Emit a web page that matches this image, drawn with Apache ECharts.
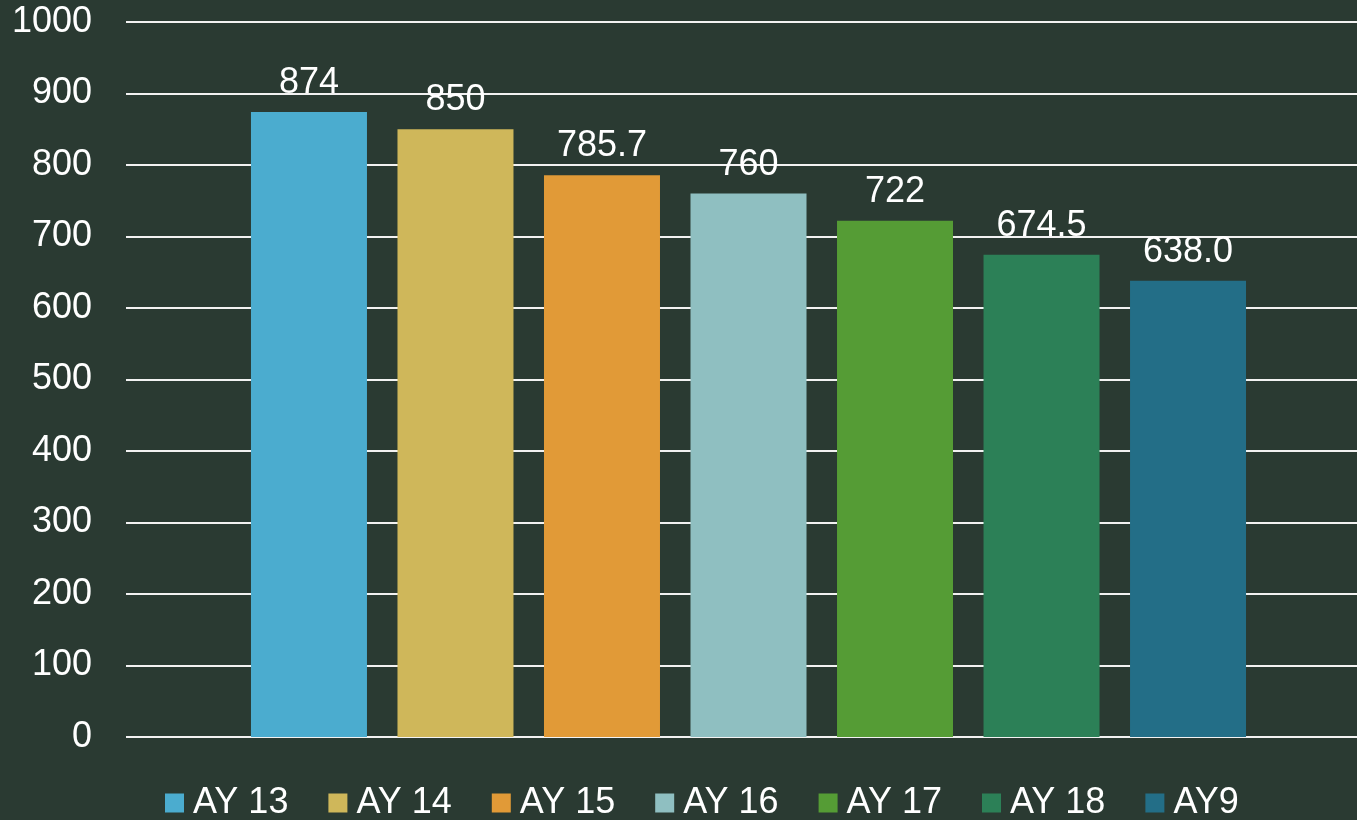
<!DOCTYPE html>
<html>
<head>
<meta charset="utf-8">
<script src="https://cdn.jsdelivr.net/npm/echarts@6/dist/echarts.min.js"></script>
<style>
  html, body { margin: 0; padding: 0; background: #2a3a32; }
  #chart { width: 1357px; height: 820px; }
</style>
</head>
<body>
<div id="chart"></div>
<script>
const seriesNames = ['AY 13', 'AY 14', 'AY 15', 'AY 16', 'AY 17', 'AY 18', 'AY9']
const seriesValues = [874, 850, 785.7, 760, 722, 674.5, 638.0]
const valueLabels = ['874', '850', '785.7', '760', '722', '674.5', '638.0']
const barColors = ['#4BACCF', '#CFB75A', '#E19A37', '#8FBFC1', '#559C35', '#2C8057', '#236E87']

const font = '"Liberation Sans", Arial, sans-serif'
const chart = echarts.init(document.getElementById('chart'))

// bars sit in their own grid so the group lands a little right of centre, like the original
const series = seriesNames.map((name, i) => ({
  name,
  type: 'bar',
  xAxisIndex: 1,
  yAxisIndex: 1,
  data: [seriesValues[i]],
  barWidth: 116,
  barGap: '26.3%',
  itemStyle: { color: barColors[i] },
  label: {
    show: true,
    position: 'top',
    distance: 11,
    color: '#ffffff',
    fontSize: 36,
    fontFamily: font,
    formatter: () => valueLabels[i]
  }
}))

chart.setOption({
  backgroundColor: '#2a3a32',
  animation: false,
  grid: [
    { left: 126, right: 0, top: 22, bottom: 83 },
    { left: 140, right: 0, top: 22, bottom: 83 }
  ],
  legend: {
    data: seriesNames,
    left: 165,
    top: 785,
    padding: 0,
    itemWidth: 19,
    itemHeight: 19,
    itemGap: 40,
    icon: 'rect',
    textStyle: { color: '#ffffff', fontSize: 36, fontFamily: font, padding: [0, 0, 0, 4] }
  },
  xAxis: [
    { type: 'category', gridIndex: 0, data: [''], show: false },
    { type: 'category', gridIndex: 1, data: [''], show: false }
  ],
  yAxis: [
    {
      type: 'value',
      gridIndex: 0,
      min: 0,
      max: 1000,
      interval: 100,
      axisLine: { show: false },
      axisTick: { show: false },
      axisLabel: { color: '#ffffff', fontSize: 36, fontFamily: font, margin: 34, formatter: (v) => String(v) },
      splitLine: { lineStyle: { color: '#f2f2f2', width: 2 } }
    },
    { type: 'value', gridIndex: 1, min: 0, max: 1000, interval: 100, show: false, splitLine: { show: false } }
  ],
  series
})
</script>
</body>
</html>
